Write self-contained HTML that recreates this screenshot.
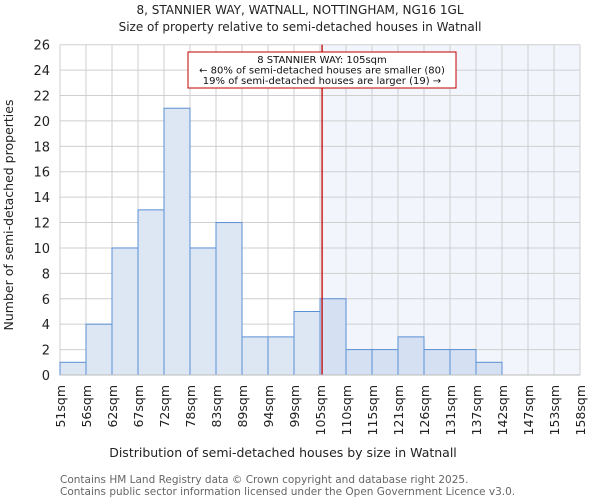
<!DOCTYPE html>
<html><head><meta charset="utf-8"><style>
body{margin:0;background:#fff;font-family:"DejaVu Sans","Liberation Sans",sans-serif}
svg text{font-family:"DejaVu Sans","Liberation Sans",sans-serif}
</style></head><body>
<svg id="c" width="600" height="500">
<text x="300" y="14" text-anchor="middle" font-size="12" fill="#222">8, STANNIER WAY, WATNALL, NOTTINGHAM, NG16 1GL</text>
<text x="300" y="31" text-anchor="middle" font-size="12" fill="#222">Size of property relative to semi-detached houses in Watnall</text>
<g id="g"></g>
<text x="283" y="457" text-anchor="middle" font-size="12.5" fill="#222">Distribution of semi-detached houses by size in Watnall</text>
<text transform="translate(13,215) rotate(-90)" text-anchor="middle" font-size="12.5" fill="#222">Number of semi-detached properties</text>
<text x="60" y="483" font-size="10.5" fill="#666">Contains HM Land Registry data © Crown copyright and database right 2025.</text>
<text x="60" y="495" font-size="10.5" fill="#666">Contains public sector information licensed under the Open Government Licence v3.0.</text>
</svg>
<script>
const labels=["51sqm","56sqm","62sqm","67sqm","72sqm","78sqm","83sqm","89sqm","94sqm","99sqm","105sqm","110sqm","115sqm","121sqm","126sqm","131sqm","137sqm","142sqm","147sqm","153sqm","158sqm"];
const counts=[1,4,10,13,21,10,12,3,3,5,6,2,2,3,2,2,1,0,0,0];
const yTicks=[0,2,4,6,8,10,12,14,16,18,20,22,24,26];
const markerBin=10.08;
const X0=60,X1=580,Y0=375,Y1=44.7,YMAX=26;
const n=counts.length,bw=(X1-X0)/n;
const x=i=>X0+i*bw, y=v=>Y0-(Y0-Y1)*v/YMAX;
const g=document.getElementById('g'),NS="http://www.w3.org/2000/svg";
function mk(t,a,p){const e=document.createElementNS(NS,t);for(const k in a)e.setAttribute(k,a[k]);(p||g).appendChild(e);return e;}
const mx=x(markerBin);
let e=mk('rect',{x:mx,y:Y1,width:X1-mx,height:Y0-Y1,fill:'#f2f5fc'});


for(const t of yTicks){e=mk('line',{x1:X0,x2:X1,y1:y(t),y2:y(t),stroke:'#cfcfcf','stroke-width':1});


e=mk('text',{x:X0-10,y:y(t)+5,'text-anchor':'end','font-size':13,fill:'#222'});e.textContent=t;

}
for(let i=0;i<=n;i++){e=mk('line',{x1:x(i),x2:x(i),y1:Y1,y2:Y0,stroke:'#cfcfcf','stroke-width':1});


e=mk('text',{transform:`translate(${x(i)+5},${Y0+10}) rotate(-90)`,'text-anchor':'end','font-size':12.5,fill:'#222'});e.textContent=labels[i];

}
counts.forEach((c,i)=>{if(!c)return;e=mk('rect',{x:x(i),y:y(c),width:bw,height:Y0-y(c),fill:i>=10?'#d5e1f3':'#dde7f4',stroke:'#5b8fd4','stroke-width':1});

});
e=mk('line',{x1:mx,x2:mx,y1:Y1,y2:Y0,stroke:'#c00000','stroke-width':1.3});


e=mk('rect',{x:188,y:52,width:268,height:36,fill:'#fff',stroke:'#c00000','stroke-width':1});


const ann=["8 STANNIER WAY: 105sqm","← 80% of semi-detached houses are smaller (80)","19% of semi-detached houses are larger (19) →"];
ann.forEach((t,i)=>{e=mk('text',{x:322,y:63+i*10.5,'text-anchor':'middle','font-size':10,fill:'#111'});e.textContent=t;

});
e=mk('line',{x1:X0,x2:X1,y1:Y0,y2:Y0,stroke:'#bbb','stroke-width':1});


</script>
</body></html>
